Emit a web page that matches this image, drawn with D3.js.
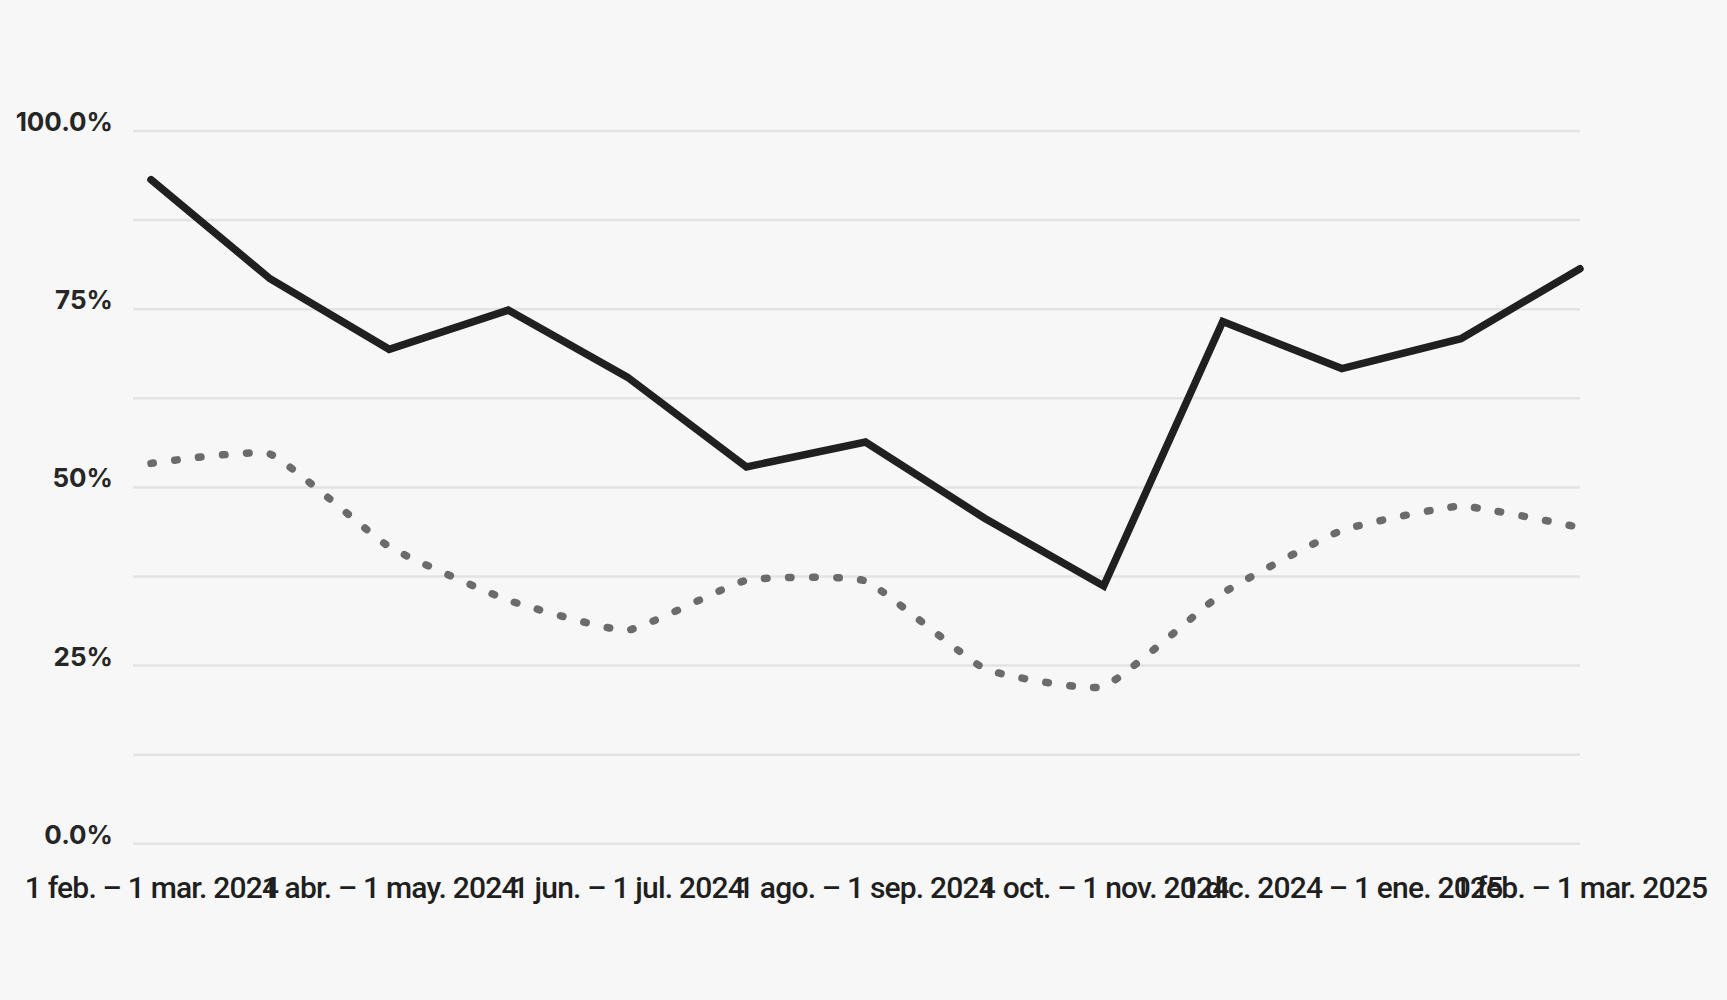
<!DOCTYPE html>
<html>
<head>
<meta charset="utf-8">
<script src="https://cdn.jsdelivr.net/npm/d3@7"></script>
<style>
  html, body { margin: 0; padding: 0; background: #f7f7f7; }
  svg { display: block; }
</style>
</head>
<body>
<svg id="chart" width="1727" height="1000"></svg>
<script>
// ---- data ----
const periods = [
  "1 feb. – 1 mar. 2024",
  "1 mar. – 1 abr. 2024",
  "1 abr. – 1 may. 2024",
  "1 may. – 1 jun. 2024",
  "1 jun. – 1 jul. 2024",
  "1 jul. – 1 ago. 2024",
  "1 ago. – 1 sep. 2024",
  "1 sep. – 1 oct. 2024",
  "1 oct. – 1 nov. 2024",
  "1 nov. – 1 dic. 2024",
  "1 dic. 2024 – 1 ene. 2025",
  "1 ene. – 1 feb. 2025",
  "1 feb. – 1 mar. 2025"
];
const xTickLabels = [
  "1 feb. – 1 mar. 2024",
  "1 abr. – 1 may. 2024",
  "1 jun. – 1 jul. 2024",
  "1 ago. – 1 sep. 2024",
  "1 oct. – 1 nov. 2024",
  "1 dic. 2024 – 1 ene. 2025",
  "1 feb. – 1 mar. 2025"
];
const solidSeries  = [93.1, 79.2, 69.3, 74.8, 65.4, 52.8, 56.3, 45.6, 36.1, 73.2, 66.6, 70.8, 80.6];
const dottedSeries = [53.3, 54.6, 41.6, 34.1, 29.9, 36.9, 36.8, 24.5, 22.0, 35.1, 43.9, 47.3, 44.3];
const gridValues   = [0, 12.5, 25, 37.5, 50, 62.5, 75, 87.5, 100];
const yTickLabels  = { 0: "0.0%", 25: "25%", 50: "50%", 75: "75%", 100: "100.0%" };

// ---- layout ----
const svg = d3.select("#chart");
const gridLeft = 133, plotRight = 1580;
const x = d3.scalePoint().domain(periods).range([151, plotRight]);
const y = d3.scaleLinear().domain([0, 100]).range([843.3, 130.5]);

// y axis with gridlines
const yAxis = d3.axisLeft(y)
  .tickValues(gridValues)
  .tickSize(-(plotRight - gridLeft))
  .tickPadding(20)
  .tickFormat(v => yTickLabels[v] !== undefined ? yTickLabels[v] : "");

const gy = svg.append("g")
  .attr("transform", `translate(${gridLeft},0)`)
  .call(yAxis);
gy.select(".domain").remove();
gy.selectAll(".tick line")
  .attr("stroke", "#e3e3e3")
  .attr("stroke-width", 2.5);
gy.selectAll(".tick text")
  .attr("dy", 0)
  .attr("fill", "#262626")
  .style("font-family", "Inter, 'Noto Sans', sans-serif")
  .style("font-weight", 700)
  .style("font-size", "26px");

// x axis
const xTickValues = periods.filter((p, i) => xTickLabels.includes(p) && (i % 2 === 0));
const xAxis = d3.axisBottom(x)
  .tickValues(xTickValues)
  .tickSize(0)
  .tickFormat(p => p);
const gx = svg.append("g")
  .attr("transform", `translate(0,${y(0)})`)
  .call(xAxis);
gx.select(".domain").remove();
gx.selectAll(".tick text")
  .attr("y", 55)
  .attr("dy", 0)
  .attr("fill", "#1f1f1f")
  .style("font-family", "Roboto, 'Liberation Sans', sans-serif")
  .style("font-weight", 500)
  .style("font-size", "30px")
  .style("letter-spacing", "-0.8px");

// dotted series (smooth)
const smoothLine = d3.line()
  .x((d, i) => x(periods[i]))
  .y(d => y(d))
  .curve(d3.curveCardinal.tension(0.6));
svg.append("path")
  .datum(dottedSeries)
  .attr("d", smoothLine)
  .attr("fill", "none")
  .attr("stroke", "#6b6b6b")
  .attr("stroke-width", 7.5)
  .attr("stroke-linecap", "round")
  .attr("stroke-dasharray", "2.5 21.5");

// solid series (straight)
const straightLine = d3.line()
  .x((d, i) => x(periods[i]))
  .y(d => y(d));
svg.append("path")
  .datum(solidSeries)
  .attr("d", straightLine)
  .attr("fill", "none")
  .attr("stroke", "#202020")
  .attr("stroke-width", 7.5)
  .attr("stroke-linecap", "round")
  .attr("stroke-linejoin", "miter");
</script>
</body>
</html>
